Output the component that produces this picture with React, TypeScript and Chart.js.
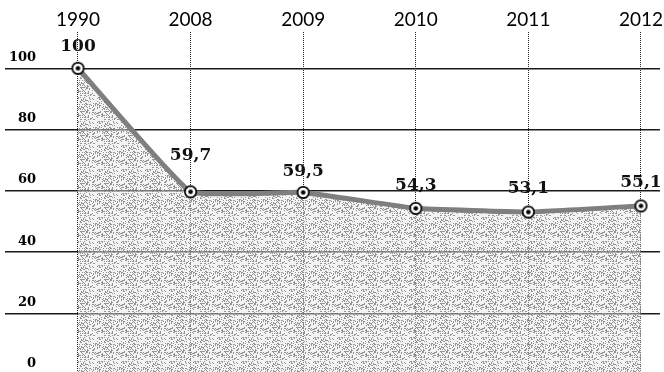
import React, { useEffect, useRef } from "react";
import { Chart, registerables } from "chart.js";

Chart.register(...registerables);

const years = ["1990", "2008", "2009", "2010", "2011", "2012"];
const values = [100, 59.7, 59.5, 54.3, 53.1, 55.1];
const yTicks = [0, 20, 40, 60, 80, 100];
const labelLift = [22, 36, 21, 23, 23, 23];

function makePattern(): CanvasPattern | string {
  const n = 24;
  const c = document.createElement("canvas");
  c.width = n;
  c.height = n;
  const ctx = c.getContext("2d");
  if (!ctx) return "#cccccc";
  ctx.fillStyle = "rgba(230,230,230,0.45)";
  ctx.fillRect(0, 0, n, n);
  ctx.fillStyle = "#939393";
  let s = 12345;
  for (let y = 0; y < n; y++) {
    for (let x = 0; x < n; x++) {
      s = (s * 1103515245 + 12345) & 0x7fffffff;
      const h = (s >> 8) % 100;
      if (h < 24) ctx.fillRect(x, y, 1, 1);
    }
  }
  const p = ctx.createPattern(c, "repeat");
  return p || "#cccccc";
}

function makeMarker(): HTMLCanvasElement {
  const c = document.createElement("canvas");
  c.width = 15;
  c.height = 15;
  const ctx = c.getContext("2d")!;
  ctx.beginPath();
  ctx.arc(7.5, 7.5, 5.7, 0, Math.PI * 2);
  ctx.fillStyle = "#ffffff";
  ctx.fill();
  ctx.lineWidth = 1.7;
  ctx.strokeStyle = "#000000";
  ctx.stroke();
  ctx.beginPath();
  ctx.arc(7.5, 7.5, 2.3, 0, Math.PI * 2);
  ctx.fillStyle = "#000000";
  ctx.fill();
  return c;
}

const valueLabels = {
  id: "valueLabels",
  afterDatasetsDraw(chart: any) {
    const ctx = chart.ctx;
    const meta = chart.getDatasetMeta(0);
    ctx.save();
    ctx.font = "bold 17px 'DejaVu Serif'";
    ctx.fillStyle = "#111111";
    ctx.textAlign = "center";
    ctx.textBaseline = "middle";
    meta.data.forEach((pt: any, i: number) => {
      const txt = String(values[i]).replace(".", ",");
      ctx.fillText(txt, pt.x, pt.y - labelLift[i]);
    });
    ctx.restore();
  },
};

export default function App() {
  const ref = useRef<HTMLCanvasElement | null>(null);

  useEffect(() => {
    if (!ref.current) return;
    const chart = new Chart(ref.current, {
      type: "line",
      data: {
        datasets: [
          {
            data: values.map((v, i) => ({ x: i, y: v })),
            borderColor: "#7f7f7f",
            borderWidth: 5,
            backgroundColor: makePattern() as any,
            fill: "start",
            tension: 0.1,
            pointStyle: makeMarker() as any,
            pointRadius: 7,
          },
        ],
      },
      options: {
        animation: false,
        responsive: false,
        layout: { autoPadding: false, padding: { top: 7, right: 4, left: 0, bottom: 0 } },
        plugins: { legend: { display: false }, tooltip: { enabled: false } },
        scales: {
          x: {
            type: "linear",
            position: "top",
            min: -0.648,
            max: 5.169,
            afterBuildTicks: (s: any) => {
              s.ticks = years.map((_, i) => ({ value: i }));
            },
            afterFit: (s: any) => {
              s.paddingLeft = 0;
              s.paddingRight = 0;
            },
            ticks: {
              padding: 1,
              color: "#000000",
              font: { family: "Lato", size: 19 },
              callback: (v: any) => years[v] ?? "",
            },
            grid: {
              drawTicks: false,
              color: "#222222",
              lineWidth: 1,
            },
            border: { display: false, dash: [1, 1] },
          },
          y: {
            min: 0.9,
            max: 111.9,
            afterBuildTicks: (s: any) => {
              s.ticks = yTicks.map((v) => ({ value: v }));
            },
            afterFit: (s: any) => {
              s.width = 5;
              s.paddingTop = 0;
              s.paddingBottom = 0;
            },
            ticks: {
              mirror: true,
              crossAlign: "far",
              padding: 4,
              labelOffset: -11,
              color: "#000000",
              font: { family: "DejaVu Serif", size: 13, weight: "bold" },
            },
            grid: {
              drawTicks: false,
              color: "#1a1a1a",
              lineWidth: 1.5,
            },
            border: { display: false },
          },
        },
      },
      plugins: [valueLabels],
    });
    return () => chart.destroy();
  }, []);

  return (
    <div style={{ position: "fixed", left: 0, top: 0, width: 664, height: 372, background: "#ffffff" }}>
      <canvas ref={ref} width={664} height={372} />
    </div>
  );
}
